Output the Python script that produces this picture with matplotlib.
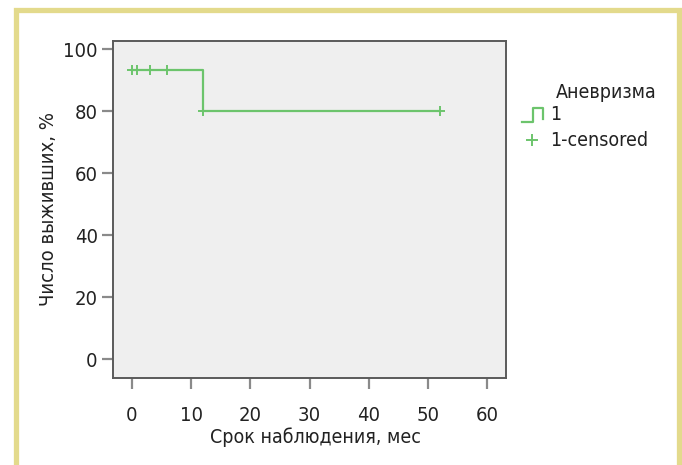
import matplotlib.pyplot as plt
from matplotlib.lines import Line2D
from matplotlib.patches import Rectangle

# ==== Data ====
step_time = [0, 12, 52]
step_surv = [93.3, 80, 80]
cens_time = [0, 0.8, 3, 6, 12, 52]
cens_surv = [93.3, 93.3, 93.3, 93.3, 80, 80]
x_ticks = [0, 10, 20, 30, 40, 50, 60]
y_ticks = [0, 20, 40, 60, 80, 100]

GREEN = '#6cc46c'
plt.rcParams['font.family'] = ['DejaVu Sans']
plt.rcParams['font.stretch'] = 'condensed'

fig = plt.figure(figsize=(6.82, 4.65), dpi=100)
W, H = 682, 465

# yellow frame around the picture (bottom edge runs off the image)
fig.add_artist(Rectangle((15.5 / W, -0.05), (678.5 - 15.5) / W, 1.05 - 10 / H,
                         transform=fig.transFigure, fill=False,
                         edgecolor='#e3da8c', linewidth=3.8))

ax = fig.add_axes([113 / W, 1 - 378 / H, (506 - 113) / W, (378 - 41) / H])
ax.set_facecolor('#efefef')
for s in ax.spines.values():
    s.set_color('#5a5a5a')
    s.set_linewidth(1.4)

# survival curve
ax.step(step_time, step_surv, where='post', color=GREEN, linewidth=1.6)
ax.plot(cens_time, cens_surv, linestyle='none', marker='+', markersize=7,
        markeredgewidth=1.4, color=GREEN)

ax.set_xlim(-3.2, 63.2)
ax.set_ylim(-6.1, 102.6)
ax.set_xticks(x_ticks)
ax.set_yticks(y_ticks)
ax.tick_params(axis='x', direction='out', length=8, width=1.6, color='#8a8a8a',
               pad=12, labelsize=14.5, labelcolor='#222222')
ax.tick_params(axis='y', direction='out', length=8, width=1.6, color='#8a8a8a',
               pad=3, labelsize=14.5, labelcolor='#222222')
ax.set_xlabel('Срок наблюдения, мес', fontsize=14, color='#222222', labelpad=2)
ax.xaxis.set_label_coords(0.514, -0.145)
ax.set_ylabel('Число выживших, %', fontsize=14.5, color='#222222', labelpad=4)

# legend drawn by hand
fig.text(556 / W, 1 - 92 / H, 'Аневризма', fontsize=14, color='#222222', va='center')
fig.add_artist(Line2D([522 / W, 533 / W, 533 / W, 543 / W, 543 / W],
                      [1 - 122 / H, 1 - 122 / H, 1 - 108 / H, 1 - 108 / H, 1 - 119 / H],
                      transform=fig.transFigure, color=GREEN, linewidth=1.6))
fig.text(550 / W, 1 - 115 / H, '1', fontsize=14, color='#222222', va='center')
fig.add_artist(Line2D([531.5 / W], [1 - 140 / H], transform=fig.transFigure,
                      marker='+', markersize=9, markeredgewidth=1.4, color=GREEN))
fig.text(550 / W, 1 - 140 / H, '1-censored', fontsize=14, color='#222222', va='center')

fig.savefig('out.png', dpi=100)
